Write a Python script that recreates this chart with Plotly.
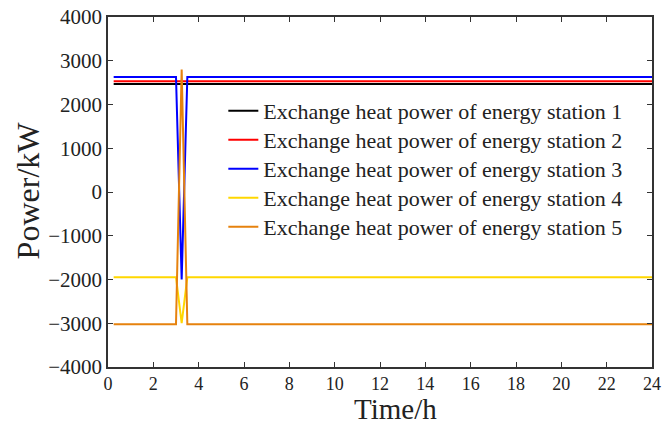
import plotly.graph_objects as go

# Data (time in hours, power in kW)
time_h = [0.25, 3.0, 3.25, 3.5, 24.0]
station1 = [2470, 2470, 2470, 2470, 2470]
station2 = [2530, 2530, 2530, 2530, 2530]
station3 = [2630, 2630, -2000, 2630, 2630]
station4 = [-1950, -1950, -3000, -1950, -1950]
station5 = [-3020, -3020, 2800, -3020, -3020]

names = [
    "Exchange heat power of energy station 1",
    "Exchange heat power of energy station 2",
    "Exchange heat power of energy station 3",
    "Exchange heat power of energy station 4",
    "Exchange heat power of energy station 5",
]
colors = ["#000000", "#ff0000", "#0000ff", "#ffd700", "#e6820e"]
series = [station1, station2, station3, station4, station5]

x_ticks = list(range(0, 25, 2))
y_ticks = list(range(-4000, 4001, 1000))

FONT = "Liberation Serif, Times New Roman, serif"

fig = go.Figure()
legend_ids = ["legend"] + ["legend%d" % (i + 1) for i in range(1, len(names))]
for name, col, ys, lid in zip(names, colors, series, legend_ids):
    fig.add_trace(go.Scatter(x=time_h, y=ys, mode="lines", name=name,
                             legend=lid, line=dict(color=col, width=2)))

axis_common = dict(
    showgrid=False, zeroline=False, showline=True, linecolor="#333333",
    linewidth=1.5, mirror="ticks", ticks="inside", ticklen=5, tickwidth=1.2,
    tickcolor="#333333", automargin=False,
)

legend_top = 0.7914
legend_step = 29 / 350
legends = {}
for i, lid in enumerate(legend_ids):
    legends[lid] = dict(
        x=0.212, y=legend_top - i * legend_step, xanchor="left", yanchor="top",
        bgcolor="rgba(0,0,0,0)", borderwidth=0,
        font=dict(family=FONT, size=22, color="#222222"),
    )

fig.update_layout(
    width=668, height=427,
    margin=dict(l=108, r=16, t=17, b=60),
    paper_bgcolor="white", plot_bgcolor="white",
    font=dict(family=FONT, color="#222222"),
    showlegend=True,
    annotations=[
        dict(text="Power/kW", xref="paper", yref="paper", x=-0.148, y=0.506,
             textangle=-90, showarrow=False, xanchor="center", yanchor="middle",
             font=dict(family=FONT, size=32, color="#222222")),
        dict(text="Time/h", xref="paper", yref="paper", x=0.529, y=-0.121,
             showarrow=False, xanchor="center", yanchor="middle",
             font=dict(family=FONT, size=29, color="#222222")),
    ],
    **legends,
)
fig.update_xaxes(
    range=[0, 24], tickvals=x_ticks, ticktext=[str(v) for v in x_ticks],
    tickfont=dict(size=18, family=FONT),
    **axis_common,
)
fig.update_yaxes(
    range=[-4000, 4000], tickvals=y_ticks,
    tickfont=dict(size=21, family=FONT),
    **axis_common,
)

fig.write_html(
    "out.html",
    config={"displayModeBar": False},
    post_script="document.body.style.margin='0px';document.body.style.overflow='hidden';",
)
